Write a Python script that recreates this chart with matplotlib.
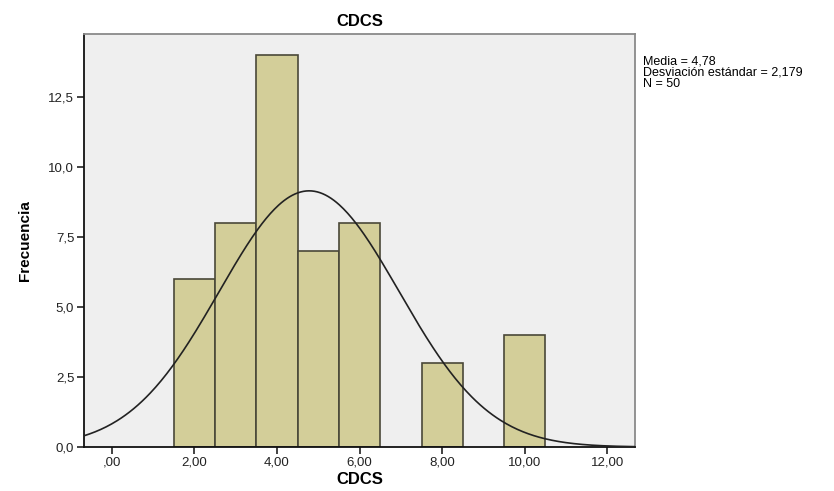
import numpy as np
import matplotlib
matplotlib.use('Agg')
from matplotlib import pyplot as plt

plt.rcParams['font.family'] = ['Liberation Sans', 'DejaVu Sans']

# histogram data
bins = [2, 3, 4, 5, 6, 8, 10]
counts = [6, 8, 14, 7, 8, 3, 4]
media = 4.78
desv = 2.179
n = 50
xticks = [0, 2, 4, 6, 8, 10, 12]
xtick_labels = [',00', '2,00', '4,00', '6,00', '8,00', '10,00', '12,00']
yticks = [0, 2.5, 5, 7.5, 10, 12.5]
ytick_labels = ['0,0', '2,5', '5,0', '7,5', '10,0', '12,5']

fig = plt.figure(figsize=(8.34, 4.91), dpi=100)
ax = fig.add_axes([0.1007, 0.0896, 0.6603, 0.8412])
ax.set_facecolor('#efefef')

ax.bar(bins, counts, width=1.0, color='#d3ce99', edgecolor='#4a4838', linewidth=1.2, zorder=2)

xlo, xhi = -0.67, 12.66
xs = np.linspace(xlo, xhi, 400)
ys = n * 1.0 * np.exp(-0.5 * ((xs - media) / desv) ** 2) / (desv * np.sqrt(2 * np.pi))
ax.plot(xs, ys, color='#222222', linewidth=1.2, zorder=3)

ax.set_xlim(xlo, xhi)
ax.set_ylim(0, 14.76)
ax.set_xticks(xticks)
ax.set_xticklabels(xtick_labels)
ax.set_yticks(yticks)
ax.set_yticklabels(ytick_labels)
ax.tick_params(direction='out', length=5, width=1.2, labelsize=9.5, colors='#222222', pad=2)

for s in ['left', 'bottom']:
    ax.spines[s].set_color('#111111')
    ax.spines[s].set_linewidth(1.3)
for s in ['top', 'right']:
    ax.spines[s].set_color('#8a8a8a')
    ax.spines[s].set_linewidth(1.3)

ax.set_title('CDCS', fontsize=12, fontweight='bold', pad=6)
ax.set_xlabel('CDCS', fontsize=12, fontweight='bold', labelpad=2)
ax.set_ylabel('Frecuencia', fontsize=11, fontweight='bold', labelpad=12)

fig.text(0.771, 0.887, 'Media = 4,78\nDesviación estándar = 2,179\nN = 50',
         fontsize=9, va='top', ha='left', linespacing=0.9)

fig.savefig('out.png', dpi=100)
